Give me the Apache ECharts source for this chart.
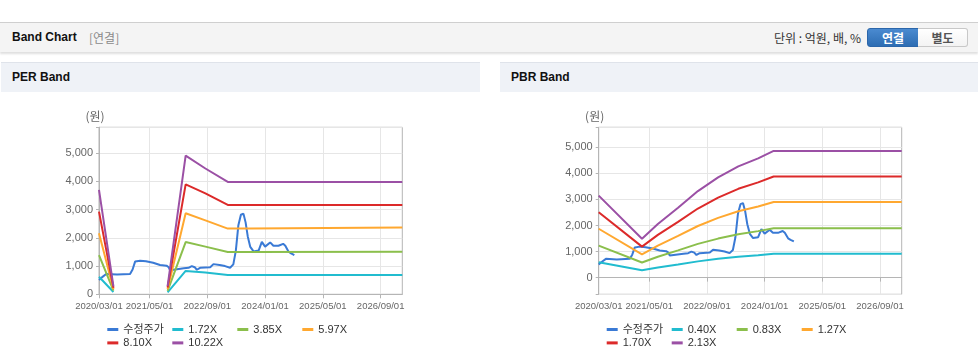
<!DOCTYPE html>
<html><head><meta charset="utf-8">
<script src="https://cdn.jsdelivr.net/npm/echarts@6/dist/echarts.min.js"></script>
<style>
html,body{margin:0;padding:0}
body{width:978px;height:362px;overflow:hidden;background:#fff;position:relative;font-family:"Liberation Sans",Arial,"Noto Sans CJK KR",sans-serif}
#bar{position:absolute;left:0;top:22px;width:978px;height:29px;border-top:1px solid #cfcfcf;background:#f4f4f4;box-shadow:0 2px 2px rgba(0,0,0,0.13)}
#bar .title{position:absolute;left:12px;top:0;line-height:29px;font-size:12px;font-weight:bold;color:#111}
#bar .sub{position:absolute;left:89px;top:0;line-height:29px;font-size:12px;color:#8a8a8a;font-family:"Noto Sans CJK KR",sans-serif}
#bar .unit{position:absolute;right:117px;top:0;line-height:29px;font-size:12px;color:#333;font-family:"Noto Sans CJK KR",sans-serif}
.btn{position:absolute;top:5px;height:17px;line-height:17px;font-size:12px;font-weight:bold;text-align:center;font-family:"Noto Sans CJK KR",sans-serif;box-sizing:content-box}
#b1{left:867px;width:50px;background:linear-gradient(#4a8ad0,#2d6db3);border:1px solid #2b66aa;border-radius:3px 0 0 3px;color:#fff}
#b2{left:918px;width:49px;background:linear-gradient(#ffffff,#f3f3f3);border:1px solid #c8c8c8;border-left:none;border-radius:0 3px 3px 0;color:#555}
.ph{position:absolute;top:62px;height:29px;border-top:1px solid #dfe3ea;background:#eff2f7;line-height:29px;font-size:12px;font-weight:bold;color:#111}
#ph1{left:1px;width:479px}
#ph2{left:500px;width:478px}
.ph span{position:absolute;left:11px}
#chart{position:absolute;left:0;top:0;width:978px;height:362px}
</style></head>
<body>
<div id="bar"><span class="title">Band Chart</span><span class="sub">[연결]</span><span class="unit">단위 : 억원, 배, %</span><div class="btn" id="b1">연결</div><div class="btn" id="b2">별도</div></div>
<div class="ph" id="ph1"><span>PER Band</span></div>
<div class="ph" id="ph2"><span>PBR Band</span></div>
<div id="chart"></div>
<script>
// ---- axis ----
const axisStart = '2020/03/01';
const axisEnd = '2027/03/01';
const tickLabels = ['2020/03/01','2021/05/01','2022/09/01','2024/01/01','2025/05/01','2026/09/01'];

// ---- 수정주가 (shared by both charts) ----
const priceDates = ['2020/03/01','2020/03/25','2020/05/01','2020/08/01','2020/11/19','2020/12/10','2021/01/01','2021/02/13','2021/04/01','2021/06/01','2021/07/28','2021/09/22','2021/10/10','2021/10/22','2021/11/07','2022/02/16','2022/03/25','2022/04/22','2022/05/16','2022/06/04','2022/07/01','2022/09/25','2022/10/22','2022/12/13','2023/01/28','2023/03/10','2023/04/07','2023/04/28','2023/05/19','2023/06/10','2023/07/01','2023/07/19','2023/08/07','2023/08/28','2023/09/25','2023/11/07','2023/12/04','2024/01/01','2024/02/13','2024/03/10','2024/04/22','2024/06/01','2024/06/19','2024/07/16','2024/08/07','2024/09/04'];
const priceValues = [507,600,720,700,720,880,1160,1190,1170,1120,1040,1015,960,850,920,920,940,1000,960,870,940,960,1070,1040,1000,940,1060,1550,2450,2820,2860,2550,2050,1680,1520,1550,1860,1690,1840,1720,1720,1790,1720,1510,1450,1390];

// ---- PER band ----
const perNames = ['1.72X','3.85X','5.97X','8.10X','10.22X'];
const perDates = ['2020/03/01','2020/07/01','2021/01/01','2021/10/01','2022/03/01','2022/08/15','2023/02/21','2023/08/28','2023/09/10','2027/03/01'];
const per172  = [620, 80, null, 70, 827, 775, 684, 684, 684, 684];
const per385  = [1390,130,null,120,1852,1690,1500,1500,1505,1505];
const per597  = [2160,180,null,180,2872,2620,2330,2330,2365,2365];
const per810  = [2930,230,null,240,3896,3580,3170,3170,3170,3170];
const per1022 = [3700,280,null,290,4915,4460,3982,3982,3982,3982];

// ---- PBR band ----
const pbrNames = ['0.40X','0.83X','1.27X','1.70X','2.13X'];
const pbrDates = ['2020/03/01','2021/03/01','2021/07/13','2022/01/01','2022/06/16','2022/12/04','2023/05/22','2023/11/07','2024/03/16','2027/03/01'];
const pbr040 = [591,280,386,504,624,722,802,860,914,914];
const pbr083 = [1226,581,801,1046,1295,1498,1664,1785,1896,1896];
const pbr127 = [1876,889,1226,1600,1981,2292,2546,2731,2901,2901];
const pbr170 = [2511,1190,1641,2142,2652,3069,3409,3655,3883,3883];
const pbr213 = [3146,1491,2055,2684,3323,3845,4271,4580,4865,4865];

const colors = {price:'#3a7ad5', c1:'#21bccf', c2:'#8bbf4c', c3:'#ffa830', c4:'#dc2a2a', c5:'#9b50a5'};

function parts(s){return s.split('/').map(Number);}
const s0 = parts(axisStart);
function monthIndex(s){const p=parts(s);return (p[0]-s0[0])*12+(p[1]-s0[1])+(p[2]-1)/30;}
const xMax = monthIndex(axisEnd);
const months = [];
for(let i=0;i<=xMax;i++){const t=(s0[1]-1)+i;const y=s0[0]+Math.floor(t/12);const m=t%12+1;months.push(y+'/'+String(m).padStart(2,'0')+'/01');}

function pts(dates, vals){return dates.map((d,i)=>[monthIndex(d), vals[i]==null?'-':vals[i]]);}

const FONT = '"Liberation Sans", Arial, "Noto Sans CJK KR", sans-serif';
const showTick = (idx, val) => tickLabels.indexOf(val) >= 0;

function catAxis(g){
  return {type:'category', gridIndex:g, data:months, boundaryGap:false,
    axisLine:{lineStyle:{color:'#b5b5b5'}},
    axisTick:{show:true, interval:showTick, length:4, lineStyle:{color:'#b5b5b5'}},
    axisLabel:{interval:showTick, color:'#666', fontSize:9.5, margin:7, fontFamily:FONT, hideOverlap:false},
    splitLine:{show:true, interval:showTick, lineStyle:{color:'#e6e6e6'}}};
}
function valXAxis(g){return {type:'value', gridIndex:g, min:0, max:xMax, show:false};}
function yAxis(g, min, max){
  return {type:'value', gridIndex:g, min:min, max:max, splitNumber:6,
    name:'(원)', nameLocation:'end', nameGap:5,
    nameTextStyle:{color:'#666', fontSize:12, fontFamily:'"Noto Sans CJK KR", sans-serif', padding:[0,8,0,0]},
    axisLine:{show:true, lineStyle:{color:'#b5b5b5'}},
    axisTick:{show:true, length:3, lineStyle:{color:'#b5b5b5'}},
    axisLabel:{color:'#666', fontSize:11, margin:6, fontFamily:FONT, showMinLabel:true, showMaxLabel:true,
      formatter:v => (Math.round(v) % 1000 === 0) ? Math.round(v).toLocaleString('en-US') : ''},
    splitLine:{lineStyle:{color:'#e6e6e6'}}};
}
function line(name, data, color, xi, yi){
  return {type:'line', name:name, data:data, xAxisIndex:xi, yAxisIndex:yi, showSymbol:false, symbol:'none',
    connectNulls:false, color:color, lineStyle:{width:2, color:color}, emphasis:{disabled:true}, animation:false};
}
function legend(left, names){
  return {left:left, top:324, width:270, padding:0, itemGap:2.4, itemWidth:11, itemHeight:3, icon:'rect',
    data:names, selectedMode:false,
    textStyle:{color:'#333', fontSize:11, fontFamily:FONT, width:46.6, lineHeight:11}};
}
const bandColors = [colors.c1, colors.c2, colors.c3, colors.c4, colors.c5];
const perVals = [per172, per385, per597, per810, per1022];
const pbrVals = [pbr040, pbr083, pbr127, pbr170, pbr213];

const series = [];
series.push(line('수정주가', pts(priceDates, priceValues), colors.price, 1, 0));
perNames.forEach((n,i)=>series.push(line(n, pts(perDates, perVals[i]), bandColors[i], 1, 0)));
series.push(line('수정주가', pts(priceDates, priceValues), colors.price, 3, 1));
pbrNames.forEach((n,i)=>series.push(line(n, pts(pbrDates, pbrVals[i]), bandColors[i], 3, 1)));

const chart = echarts.init(document.getElementById('chart'), null, {renderer:'canvas'});
chart.setOption({
  animation:false,
  textStyle:{fontFamily:FONT},
  grid:[
    {left:99, top:127.3, width:303.3, height:167, show:true, borderColor:'#b5b5b5', borderWidth:1, backgroundColor:'transparent'},
    {left:598.7, top:127.3, width:303, height:167, show:true, borderColor:'#b5b5b5', borderWidth:1, backgroundColor:'transparent'}
  ],
  xAxis:[catAxis(0), valXAxis(0), catAxis(1), valXAxis(1)],
  yAxis:[yAxis(0, 0, 5920), yAxis(1, -640, 5770)],
  legend:[legend(107.3, ['수정주가'].concat(perNames)), legend(606.7, ['수정주가'].concat(pbrNames))],
  series:series
});
</script>
</body></html>
